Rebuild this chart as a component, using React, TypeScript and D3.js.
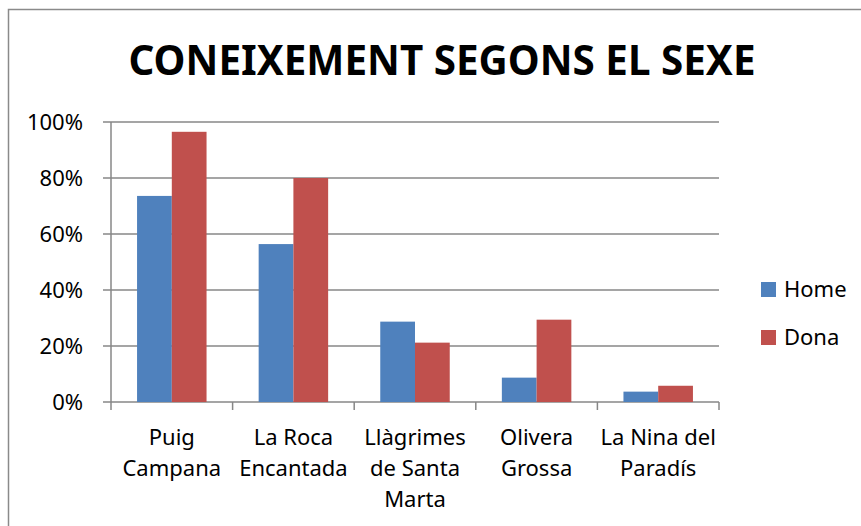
import * as d3 from "d3";

const categories = [
  "Puig Campana",
  "La Roca Encantada",
  "Llàgrimes de Santa Marta",
  "Olivera Grossa",
  "La Nina del Paradís",
];
const categoryLines = [
  ["Puig", "Campana"],
  ["La Roca", "Encantada"],
  ["Llàgrimes", "de Santa", "Marta"],
  ["Olivera", "Grossa"],
  ["La Nina del", "Paradís"],
];
const seriesNames = ["Home", "Dona"];
const homeValues = [0.736, 0.564, 0.287, 0.087, 0.037];
const donaValues = [0.965, 0.8, 0.212, 0.294, 0.058];
const yTicks = [0, 0.2, 0.4, 0.6, 0.8, 1];
const title = "CONEIXEMENT SEGONS EL SEXE";

const COLORS: { [key: string]: string } = { Home: "#4F81BD", Dona: "#C0504D" };
const GRID = "#878787";
const FONT = "'Noto Sans', 'Open Sans', sans-serif";

const WIDTH = 861;
const HEIGHT = 526;
const PLOT = { left: 111, right: 719, top: 122, bottom: 402 };

const App = () => {
  const values: { [key: string]: number[] } = { Home: homeValues, Dona: donaValues };

  const xScale = d3
    .scaleBand<string>()
    .domain(categories)
    .range([PLOT.left, PLOT.right])
    .paddingInner(0)
    .paddingOuter(0);

  const xSub = d3
    .scaleBand<string>()
    .domain(seriesNames)
    .range([0, xScale.bandwidth()])
    .paddingInner(0)
    .paddingOuter(0.75);

  const yScale = d3
    .scaleLinear()
    .domain([0, 1])
    .range([PLOT.bottom, PLOT.top]);

  const fmt = d3.format(".0%");

  const grid = yTicks.map((t, i) => (
    <g key={i}>
      <line
        x1={PLOT.left - 8}
        x2={PLOT.right}
        y1={yScale(t)}
        y2={yScale(t)}
        stroke={GRID}
        strokeWidth={1.5}
      />
      <text
        x={83}
        y={yScale(t) + 8}
        textAnchor="end"
        fontSize={22}
        fontFamily={FONT}
        fill="#000"
      >
        {fmt(t)}
      </text>
    </g>
  ));

  const boundaries = [...categories.map((c) => xScale(c)!), PLOT.right];
  const xTicks = boundaries.map((x, i) => (
    <line
      key={i}
      x1={x}
      x2={x}
      y1={PLOT.bottom}
      y2={PLOT.bottom + 8}
      stroke={GRID}
      strokeWidth={1.5}
    />
  ));

  const bars = categories.flatMap((c, ci) =>
    seriesNames.map((s) => (
      <rect
        key={c + s}
        x={xScale(c)! + xSub(s)!}
        y={yScale(values[s][ci])}
        width={xSub.bandwidth()}
        height={PLOT.bottom - yScale(values[s][ci])}
        fill={COLORS[s]}
      />
    ))
  );

  const xLabels = categories.map((c, ci) => (
    <text
      key={c}
      x={xScale(c)! + xScale.bandwidth() / 2}
      textAnchor="middle"
      fontSize={22}
      fontFamily={FONT}
      fill="#000"
    >
      {categoryLines[ci].map((line, li) => (
        <tspan key={li} x={xScale(c)! + xScale.bandwidth() / 2} y={445 + li * 31}>
          {line}
        </tspan>
      ))}
    </text>
  ));

  const legend = seriesNames.map((s, i) => (
    <g key={s} transform={`translate(761, ${282 + i * 48})`}>
      <rect width={15} height={15} fill={COLORS[s]} />
      <text x={23} y={15} fontSize={22} fontFamily={FONT} fill="#000">
        {s}
      </text>
    </g>
  ));

  return (
    <svg
      width={WIDTH}
      height={HEIGHT}
      style={{ position: "absolute", left: 0, top: 0, display: "block" }}
    >
      <rect x={0} y={0} width={WIDTH} height={HEIGHT} fill="#fff" />
      <path
        d={`M8.5,${HEIGHT} L8.5,9.5 L${WIDTH},9.5`}
        fill="none"
        stroke="#8a8a8a"
        strokeWidth={1.5}
      />
      <text
        x={442}
        y={75}
        textAnchor="middle"
        fontSize={42}
        fontWeight="bold"
        fontFamily={FONT}
        textLength={627}
        lengthAdjust="spacingAndGlyphs"
        fill="#000"
      >
        {title}
      </text>
      {grid}
      {bars}
      <line
        x1={PLOT.left}
        x2={PLOT.left}
        y1={PLOT.top}
        y2={PLOT.bottom}
        stroke={GRID}
        strokeWidth={1.5}
      />
      {xTicks}
      {xLabels}
      {legend}
    </svg>
  );
};

export default App;
